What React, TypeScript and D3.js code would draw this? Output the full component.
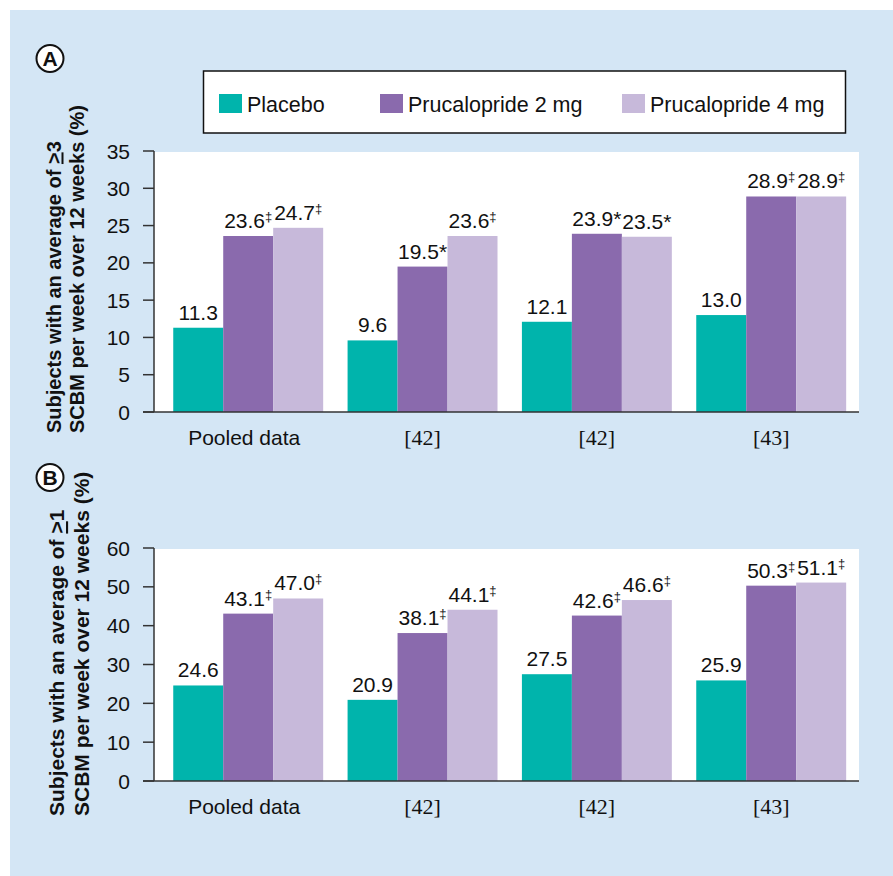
import React from "react";
import * as d3 from "d3";

const categories = ["Pooled data", "[42]", "[42]", "[43]"];
const seriesNames = ["Placebo", "Prucalopride 2 mg", "Prucalopride 4 mg"];
const seriesColors = ["#00b4ac", "#8a6aad", "#c7b9da"];

const placeboA = [11.3, 9.6, 12.1, 13.0];
const pru2A = [23.6, 19.5, 23.9, 28.9];
const pru4A = [24.7, 23.6, 23.5, 28.9];
const placeboAMarks = ["", "", "", ""];
const pru2AMarks = ["‡", "*", "*", "‡"];
const pru4AMarks = ["‡", "‡", "*", "‡"];

const placeboB = [24.6, 20.9, 27.5, 25.9];
const pru2B = [43.1, 38.1, 42.6, 50.3];
const pru4B = [47.0, 44.1, 46.6, 51.1];
const placeboBMarks = ["", "", "", ""];
const pru2BMarks = ["‡", "‡", "‡", "‡"];
const pru4BMarks = ["‡", "‡", "‡", "‡"];

const ticksA = [0, 5, 10, 15, 20, 25, 30, 35];
const ticksB = [0, 10, 20, 30, 40, 50, 60];

const titleA1 = ["Subjects with an average of ", ">", "3"];
const titleB1 = ["Subjects with an average of ", ">", "1"];
const title2 = "SCBM per week over 12 weeks (%)";

const SANS = "'Liberation Sans', Arial, Helvetica, sans-serif";
const SERIF = "'Liberation Serif', 'DejaVu Serif', 'Times New Roman', serif";

const X0 = 154;
const X1 = 859;

const xBand = d3
  .scaleBand<number>()
  .domain(categories.map((_, i) => i))
  .range([X0, X1])
  .paddingInner(0.14)
  .paddingOuter(0.092)
  .align(0.6);

const inner = d3
  .scaleBand<number>()
  .domain(seriesNames.map((_, i) => i))
  .range([0, xBand.bandwidth()])
  .padding(0);

function fmt(v: number) {
  return v.toFixed(1);
}

function ValueLabel({ x, y, v, mark }: { x: number; y: number; v: number; mark: string }) {
  return (
    <text x={x} y={y} textAnchor="middle" fontFamily={SANS} fontSize={21} fill="#111">
      <tspan>{fmt(v)}</tspan>
      {mark === "‡" ? (
        <tspan fontSize={13} dy={-7}>
          ‡
        </tspan>
      ) : mark ? (
        <tspan>{mark}</tspan>
      ) : null}
    </text>
  );
}

function Panel({
  letter,
  letterY,
  yTop,
  yBottom,
  domainMax,
  ticks,
  values,
  marks,
  title1,
  titleFont,
  t1x,
  t2x,
  titleStartY,
}: {
  letter: string;
  letterY: number;
  yTop: number;
  yBottom: number;
  domainMax: number;
  ticks: number[];
  values: number[][];
  marks: string[][];
  title1: string[];
  titleFont: number;
  t1x: number;
  t2x: number;
  titleStartY: number;
}) {
  const y = d3.scaleLinear().domain([0, domainMax]).range([yBottom, yTop]);
  const plotTop = yTop + 1;
  return (
    <g>
      <circle cx={50} cy={letterY} r={13.5} fill="#fff" stroke="#111" strokeWidth={2} />
      <text
        x={50}
        y={letterY + 7.5}
        textAnchor="middle"
        fontFamily={SANS}
        fontWeight="bold"
        fontSize={21}
        fill="#111"
      >
        {letter}
      </text>

      <text
        transform={`translate(${t1x},${titleStartY}) rotate(-90)`}
        fontFamily={SANS}
        fontWeight="bold"
        fontSize={titleFont}
        fill="#111"
      >
        <tspan>{title1[0]}</tspan>
        <tspan textDecoration="underline">{title1[1]}</tspan>
        <tspan>{title1[2]}</tspan>
      </text>
      <text
        transform={`translate(${t2x},${titleStartY}) rotate(-90)`}
        fontFamily={SANS}
        fontWeight="bold"
        fontSize={titleFont}
        fill="#111"
      >
        {title2}
      </text>

      <rect x={X0} y={plotTop} width={X1 - X0} height={yBottom - plotTop} fill="#fff" />

      {values.map((arr, s) =>
        arr.map((v, i) => {
          const bx = (xBand(i) as number) + (inner(s) as number);
          return (
            <rect
              key={`b${s}-${i}`}
              x={bx}
              y={y(v)}
              width={inner.bandwidth()}
              height={yBottom - y(v)}
              fill={seriesColors[s]}
            />
          );
        })
      )}

      {values.map((arr, s) =>
        arr.map((v, i) => {
          const cx = (xBand(i) as number) + (inner(s) as number) + inner.bandwidth() / 2;
          return <ValueLabel key={`l${s}-${i}`} x={cx} y={y(v) - 8} v={v} mark={marks[s][i]} />;
        })
      )}

      <line x1={X0} x2={X0} y1={y(domainMax)} y2={yBottom} stroke="#333" strokeWidth={1.5} />
      <line x1={X0 - 11} x2={X1} y1={yBottom} y2={yBottom} stroke="#333" strokeWidth={1.5} />
      {ticks.map((t) => (
        <g key={`t${t}`}>
          <line x1={X0 - 11} x2={X0} y1={y(t)} y2={y(t)} stroke="#333" strokeWidth={1.5} />
          <text
            x={130}
            y={y(t) + 7.5}
            textAnchor="end"
            fontFamily={SANS}
            fontSize={21}
            fill="#111"
          >
            {t}
          </text>
        </g>
      ))}

      {categories.map((c, i) => (
        <text
          key={`c${i}`}
          x={(xBand(i) as number) + xBand.bandwidth() / 2 - (i === 0 ? 4 : 0)}
          y={yBottom + 33}
          textAnchor="middle"
          fontFamily={c.startsWith("[") ? SERIF : SANS}
          fontSize={c.startsWith("[") ? 22 : 21}
          fill="#111"
        >
          {c}
        </text>
      ))}
    </g>
  );
}

export default function App() {
  const legendX = [219, 380, 622];
  return (
    <div>
      <style>{"body{margin:0;}"}</style>
      <svg width={893} height={876} style={{ display: "block" }}>
        <rect x={0} y={0} width={893} height={876} fill="#fff" />
        <rect x={10} y={10} width={883} height={866} fill="#d4e6f5" />

        <rect x={203.5} y={71} width={642} height={62} fill="#fff" stroke="#111" strokeWidth={1.5} />
        {seriesNames.map((s, i) => (
          <g key={s}>
            <rect x={legendX[i]} y={94} width={23} height={19} fill={seriesColors[i]} />
            <text x={legendX[i] + 28} y={111.5} fontFamily={SANS} fontSize={21.5} fill="#111">
              {s}
            </text>
          </g>
        ))}

        <Panel
          letter="A"
          letterY={58.5}
          yTop={151}
          yBottom={412}
          domainMax={35}
          ticks={ticksA}
          values={[placeboA, pru2A, pru4A]}
          marks={[placeboAMarks, pru2AMarks, pru4AMarks]}
          title1={titleA1}
          titleFont={20}
          t1x={60.5}
          t2x={83.5}
          titleStartY={433}
        />
        <Panel
          letter="B"
          letterY={477.5}
          yTop={548}
          yBottom={781}
          domainMax={60}
          ticks={ticksB}
          values={[placeboB, pru2B, pru4B]}
          marks={[placeboBMarks, pru2BMarks, pru4BMarks]}
          title1={titleB1}
          titleFont={21}
          t1x={64}
          t2x={88.5}
          titleStartY={816}
        />
      </svg>
    </div>
  );
}
